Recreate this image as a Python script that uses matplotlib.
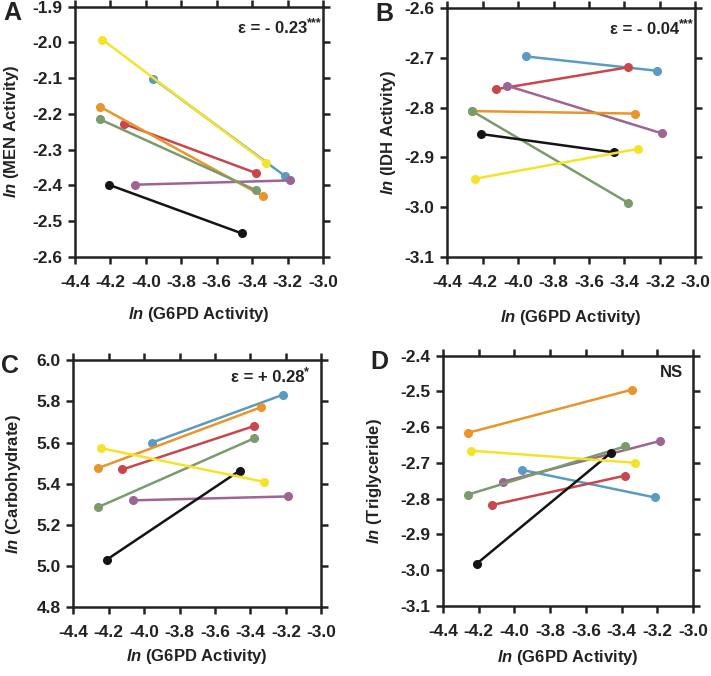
import matplotlib
matplotlib.use('Agg')
import matplotlib.pyplot as plt
import numpy as np

plt.rcParams['font.family'] = 'Liberation Sans'
plt.rcParams['font.weight'] = 'bold'
plt.rcParams['mathtext.fontset'] = 'custom'
plt.rcParams['mathtext.it'] = 'Liberation Sans:italic:bold'
plt.rcParams['mathtext.rm'] = 'Liberation Sans:bold'

# line groups (same order everywhere)
names = ['blue', 'red', 'purple', 'orange', 'green', 'black', 'yellow']
colors = ['#5b9bc1', '#c9474c', '#9c6593', '#e8952b', '#7b9b6c', '#141414', '#f5e32a']

# ln G6PD activity, low / high end of each line
g6pd_lo = [-3.958, -4.123, -4.062, -4.258, -4.259, -4.210, -4.245]
g6pd_hi = [-3.215, -3.381, -3.186, -3.340, -3.381, -3.460, -3.325]

# y values at low / high end
men_lo = [-2.101, -2.228, -2.398, -2.180, -2.215, -2.398, -1.992]
men_hi = [-2.374, -2.365, -2.386, -2.430, -2.413, -2.534, -2.336]

idh_lo = [-2.697, -2.763, -2.756, -2.807, -2.807, -2.853, -2.943]
idh_hi = [-2.726, -2.719, -2.852, -2.812, -2.991, -2.890, -2.883]

carb_lo = [5.599, 5.469, 5.319, 5.476, 5.286, 5.031, 5.573]
carb_hi = [5.833, 5.680, 5.338, 5.772, 5.620, 5.464, 5.409]

trig_lo = [-2.720, -2.818, -2.753, -2.616, -2.789, -2.982, -2.666]
trig_hi = [-2.797, -2.736, -2.639, -2.495, -2.654, -2.672, -2.700]

fig = plt.figure(figsize=(7.11, 6.76), dpi=100)

panels = [
    # letter, ylabel, lo, hi, ylim, yticks, note, rect, xlabel y, ylabel x, note pos
    ('A', 'MEN Activity', men_lo, men_hi, (-2.6, -1.9), np.arange(-2.6, -1.85, 0.1),
     ('ε = - 0.23', '***'), [0.1055, 0.620, 0.349, 0.370], -0.232, -0.254, (0.935, 0.915)),
    ('B', 'IDH Activity', idh_lo, idh_hi, (-3.1, -2.6), np.arange(-3.1, -2.55, 0.1),
     ('ε = - 0.04', '***'), [0.629, 0.620, 0.349, 0.368], -0.245, -0.238, (0.935, 0.915)),
    ('C', 'Carbohydrate', carb_lo, carb_hi, (4.8, 6.0), np.arange(4.8, 6.05, 0.2),
     ('ε = + 0.28', '*'), [0.103, 0.102, 0.349, 0.365], -0.202, -0.241, (0.93, 0.93)),
    ('D', 'Triglyceride', trig_lo, trig_hi, (-3.1, -2.4), np.arange(-3.1, -2.35, 0.1),
     ('NS', ''), [0.623, 0.104, 0.352, 0.370], -0.208, -0.272, (0.96, 0.932)),
]

for letter, ylab, lo, hi, ylim, yticks, note, rect, xly, ylx, npos in panels:
    ax = fig.add_axes(rect)
    for i in range(len(names)):
        ax.plot([g6pd_lo[i], g6pd_hi[i]], [lo[i], hi[i]], color=colors[i],
                linewidth=1.8, marker='o', markersize=5.5, zorder=3)
    ax.set_xlim(-4.4, -3.0)
    ax.set_ylim(*ylim)
    xt = np.arange(-4.4, -2.95, 0.2)
    ax.set_xticks(xt)
    ax.set_xticklabels(['%.1f' % v for v in xt], fontweight='bold')
    ax.set_yticks(yticks)
    ax.set_yticklabels(['%.1f' % v for v in yticks], fontweight='bold')
    for s in ax.spines.values():
        s.set_linewidth(1.8)
        s.set_color('#222222')
    ax.tick_params(direction='out', length=5, width=1.8, labelsize=12.5,
                   top=True, right=True, colors='#222222', pad=4)
    ax.tick_params(axis='x', pad=8)
    ax.set_xlabel(r'$\mathit{ln}$ (G6PD Activity)', fontsize=12, fontweight='bold',
                  color='#222222', va='center')
    ax.xaxis.set_label_coords(0.5, xly)
    ax.set_ylabel(r'$\mathit{ln}$ (' + ylab + ')', fontsize=12, fontweight='bold',
                  color='#222222', va='center')
    ax.yaxis.set_label_coords(ylx, 0.5)
    ax.text(npos[0], npos[1], note[0], transform=ax.transAxes, ha='right', va='center',
            fontsize=12, fontweight='bold', color='#222222')
    if note[1]:
        ax.text(npos[0], npos[1] + 0.02, note[1], transform=ax.transAxes, ha='left',
                va='center', fontsize=9, fontweight='bold', color='#222222')
    ax.text(-0.29, 0.975, letter, transform=ax.transAxes, ha='left', va='center',
            fontsize=18, fontweight='bold', color='#222222')

fig.savefig('out.png', dpi=100)
